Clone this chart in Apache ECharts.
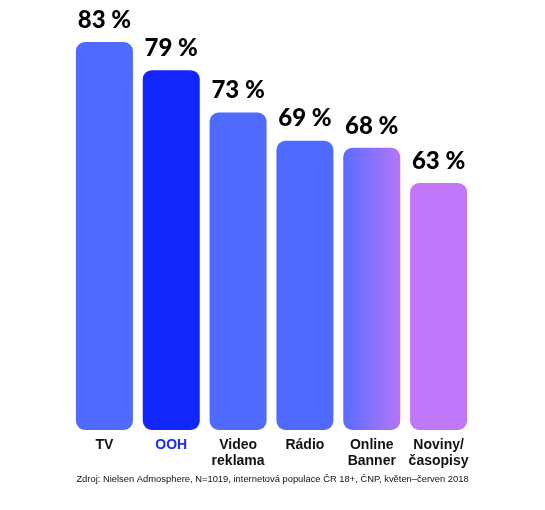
<!DOCTYPE html>
<html><head><meta charset="utf-8">
<script src="https://cdn.jsdelivr.net/npm/echarts@6/dist/echarts.min.js"></script>
<style>html,body{margin:0;padding:0;background:#fff}#c{width:545px;height:510px}</style>
</head><body><div id="c"></div>
<script>
const categories = ['TV', 'OOH', 'Video\nreklama', 'Rádio', 'Online\nBanner', 'Noviny/\nčasopisy'];
const values = [83, 79, 73, 69, 68, 63];
const source = 'Zdroj: Nielsen Admosphere, N=1019, internetová populace ČR 18+, ČNP, květen–červen 2018';

const BLUE = '#4f6bff', DARK = '#1226fb', PURPLE = '#c077fa';
const colors = [
  BLUE, DARK, BLUE, BLUE,
  {type:'linear', x:0, y:0, x2:1, y2:0, colorStops:[{offset:0,color:'#5a6cff'},{offset:1,color:'#b476f8'}]},
  PURPLE
];

const chart = echarts.init(document.getElementById('c'), null, {renderer:'canvas'});
chart.setOption({
  animation:false,
  backgroundColor:'#fff',
  grid:{left:71, right:73, top:42, bottom:80, containLabel:false},
  graphic:[{type:'text', left:'center', top:475,
    style:{text:source, font:'9.4px "Liberation Sans", Arial, sans-serif', fill:'#111'}}],
  xAxis:{type:'category', data:categories,
    axisLine:{show:false}, axisTick:{show:false},
    axisLabel:{margin:7, interval:0, lineHeight:16,
      fontFamily:'"Liberation Sans", Arial, sans-serif', fontWeight:'bold', fontSize:14,
      color:(v)=> v==='OOH' ? '#1428ff' : '#111'}},
  yAxis:{type:'value', min:28, max:83, show:false, splitLine:{show:false}},
  series:[{type:'bar', barWidth:57,
    data: values.map((v,i)=>({value:v, itemStyle:{color:colors[i]}})),
    itemStyle:{borderRadius:9},
    label:{show:true, position:'top', distance:10,
      formatter:(p)=>p.value+' %',
      fontFamily:'Lato, "Open Sans", sans-serif', fontWeight:900, fontSize:24, color:'#000'}}]
});
</script></body></html>
